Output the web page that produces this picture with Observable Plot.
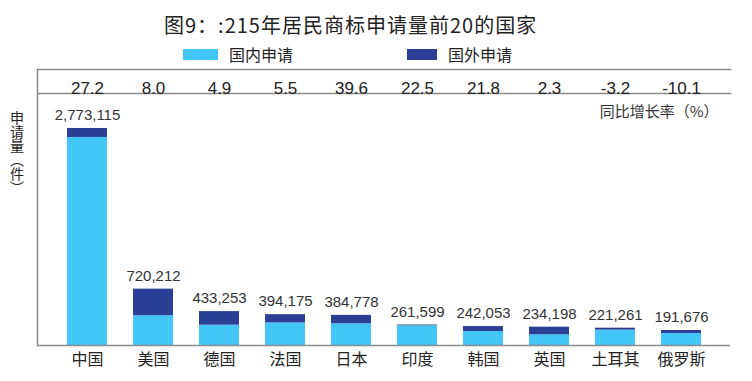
<!DOCTYPE html>
<html><head><meta charset="utf-8">
<script src="https://cdn.jsdelivr.net/npm/d3@7"></script>
<script src="https://cdn.jsdelivr.net/npm/@observablehq/plot@0.6"></script>
<style>
body{margin:0;background:#fff;font-family:"Noto Sans CJK SC",sans-serif;}
#wrap{position:relative;width:752px;height:381px;overflow:hidden;}
#head{position:relative;height:60px;}
.title{position:absolute;left:164px;top:13px;font-size:20px;letter-spacing:1px;line-height:24px;color:#222;white-space:nowrap;}
.sw{position:absolute;top:49px;height:11px;}
.lab{position:absolute;top:44px;font-size:16px;line-height:20px;color:#222;white-space:nowrap;}
.ylab{position:absolute;left:10px;top:111px;font-size:14px;line-height:14px;writing-mode:vertical-rl;color:#222;z-index:2;}
</style></head><body>
<div id="wrap">
<div id="head">
  <div class="title" id="title"></div>
  <div class="sw" id="sw0" style="left:183px;width:35px;"></div>
  <div class="lab" id="lab0" style="left:229px;"></div>
  <div class="sw" id="sw1" style="left:407px;width:30px;"></div>
  <div class="lab" id="lab1" style="left:448px;"></div>
</div>
<div class="ylab" id="ylab"></div>
<div id="chart"></div>
</div>
<script>
const titleText = "图9：:215年居民商标申请量前20的国家";
const countries = ["中国","美国","德国","法国","日本","印度","韩国","英国","土耳其","俄罗斯"];
const totals = [2773115,720212,433253,394175,384778,261599,242053,234198,221261,191676];
const domestic = [2658115,380212,259253,288175,277778,251599,178053,137198,196261,153676];
const foreign = [115000,340000,174000,106000,107000,10000,64000,97000,25000,38000];
const growth = ["27.2","8.0","4.9","5.5","39.6","22.5","21.8","2.3","-3.2","-10.1"];
const seriesNames = ["国内申请","国外申请"];
const seriesColors = ["#42C6F8","#2B3F96"];
const growthLabel = "同比增长率（%）";
const yLabel = "申请量（件）";

document.getElementById("title").textContent = titleText;
document.getElementById("ylab").textContent = yLabel;
seriesNames.forEach((s,i)=>{
  document.getElementById("lab"+i).textContent = s;
  document.getElementById("sw"+i).style.background = seriesColors[i];
});

const rows = [];
countries.forEach((c,i)=>{
  rows.push({country:c, type:seriesNames[0], value:domestic[i]});
  rows.push({country:c, type:seriesNames[1], value:foreign[i]});
});
const totalRows = countries.map((c,i)=>({country:c,total:totals[i],growth:growth[i]}));
const numFont = "'Liberation Sans', Arial, sans-serif";
const cjkFont = "'Noto Sans CJK SC', sans-serif";
const lineColor = "#8a8a8a";

const chart = Plot.plot({
  width:752, height:321,
  marginTop:33, marginBottom:36, marginLeft:37, marginRight:22,
  x:{domain:countries, paddingInner:0.4, paddingOuter:0.45, label:null},
  y:{domain:[0,3220000], axis:null},
  color:{domain:seriesNames, range:seriesColors},
  style:{fontFamily:numFont, background:"#fff"},
  marks:[
    Plot.barY(rows,{x:"country", y:"value", fill:"type", order:seriesNames}),
    Plot.ruleY([0],{stroke:lineColor, strokeWidth:1.5}),
    Plot.frame({anchor:"top", stroke:lineColor, strokeWidth:1.5}),
    Plot.frame({anchor:"top", insetTop:-24, stroke:lineColor, strokeWidth:1.5}),
    Plot.frame({anchor:"left", insetTop:-24, stroke:lineColor, strokeWidth:1.5}),
    Plot.axisX({tickSize:0, tickPadding:8, fontSize:16, fontFamily:cjkFont, fill:"#222", label:null}),
    Plot.text(totalRows,{x:"country", y:"total", text:d=>d3.format(",")(d.total), dy:-13, fontSize:15, fill:"#333", fontFamily:numFont}),
    Plot.text(totalRows,{x:"country", text:"growth", frameAnchor:"top", dy:-12, fontSize:17, fill:"#222", fontFamily:numFont}),
    Plot.text([growthLabel],{text:d=>d, frameAnchor:"top-right", dx:-12, dy:13, fontSize:15, fill:"#333", fontFamily:cjkFont})
  ]
});
document.getElementById("chart").appendChild(chart);
</script>
</body></html>
